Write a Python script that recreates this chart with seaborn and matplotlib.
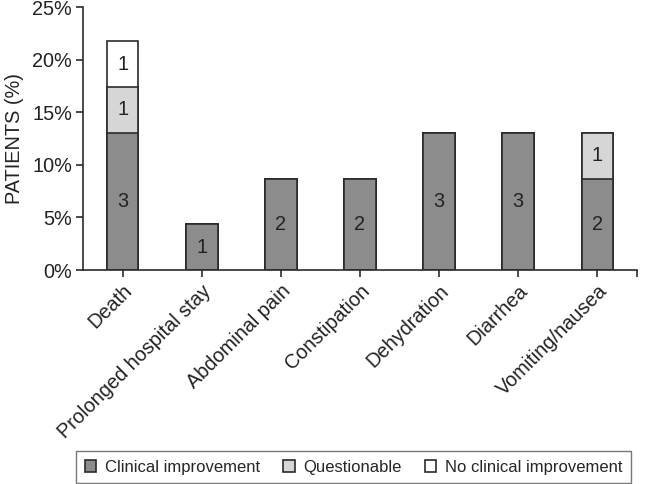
import matplotlib
matplotlib.use("Agg")
import matplotlib.pyplot as plt
import seaborn as sns
import pandas as pd
import numpy as np
from matplotlib.patches import Patch
from matplotlib.ticker import FuncFormatter, FixedLocator

categories = ["Death", "Prolonged hospital stay", "Abdominal pain", "Constipation",
              "Dehydration", "Diarrhea", "Vomiting/nausea"]
clinical = [3, 1, 2, 2, 3, 3, 2]
questionable = [1, 0, 0, 0, 0, 0, 1]
no_improvement = [1, 0, 0, 0, 0, 0, 0]
total_patients = 23
series_names = ["Clinical improvement", "Questionable", "No clinical improvement"]
colors = ["#8c8c8c", "#d6d6d6", "#ffffff"]
edge = "#2b2b2b"

sns.set_theme(style="ticks")
plt.rcParams["font.family"] = ["Liberation Sans", "DejaVu Sans"]

c = np.array(clinical, float)
q = np.array(questionable, float)
n = np.array(no_improvement, float)
pc = c / total_patients * 100
pq = q / total_patients * 100
pn = n / total_patients * 100

df = pd.DataFrame({
    "category": categories,
    "top": pc + pq + pn,
    "mid": pc + pq,
    "low": pc,
})

fs = 14.3
fig = plt.figure(figsize=(6.46, 4.84), dpi=100)
ax = fig.add_axes([0.1285, 0.442, 0.8575, 0.5435])

for col, colr in zip(["top", "mid", "low"], colors[::-1]):
    sns.barplot(data=df, x="category", y=col, order=categories, color=colr,
                width=0.4, edgecolor=edge, linewidth=1.2, saturation=1, ax=ax)

# segment labels
for i in range(len(categories)):
    segs = [(0, pc[i], c[i]), (pc[i], pq[i], q[i]), (pc[i] + pq[i], pn[i], n[i])]
    for base, h, cnt in segs:
        if cnt > 0:
            ax.text(i, base + h / 2, f"{int(cnt)}", ha="center", va="center",
                    fontsize=fs, color="#222222")

ax.set_xlim(-0.5, 6.5)
ax.set_ylim(0, 25)
ax.set_yticks([0, 5, 10, 15, 20, 25])
ax.yaxis.set_major_formatter(FuncFormatter(lambda v, p: f"{int(v)}%"))
ax.set_ylabel("PATIENTS (%)", fontsize=fs, color="#222222", labelpad=6)
ax.set_xlabel("")
ax.set_xticks(range(len(categories)))
ax.set_xticklabels(categories, rotation=45, ha="right", rotation_mode="anchor",
                   fontsize=fs, color="#222222")
ax.xaxis.set_minor_locator(FixedLocator([6.5]))
ax.tick_params(axis="x", which="minor", length=5, width=1.2, color="#2b2b2b")
ax.tick_params(axis="both", which="major", length=5, width=1.2, color="#2b2b2b",
               labelsize=fs, labelcolor="#222222", pad=3)
for s in ["top", "right"]:
    ax.spines[s].set_visible(False)
for s in ["left", "bottom"]:
    ax.spines[s].set_color("#2b2b2b")
    ax.spines[s].set_linewidth(1.2)

handles = [Patch(facecolor=cl, edgecolor=edge, linewidth=1.2, label=nm)
           for cl, nm in zip(colors, series_names)]
leg = fig.legend(handles=handles, loc="center", bbox_to_anchor=(0.547, 0.035),
                 ncol=3, frameon=True, fontsize=12.0, handlelength=0.7,
                 handleheight=0.7, handletextpad=0.5, columnspacing=1.4,
                 borderpad=0.5, fancybox=False, edgecolor="#555555")
leg.get_frame().set_linewidth(1.0)

fig.savefig("out.png", dpi=100)
